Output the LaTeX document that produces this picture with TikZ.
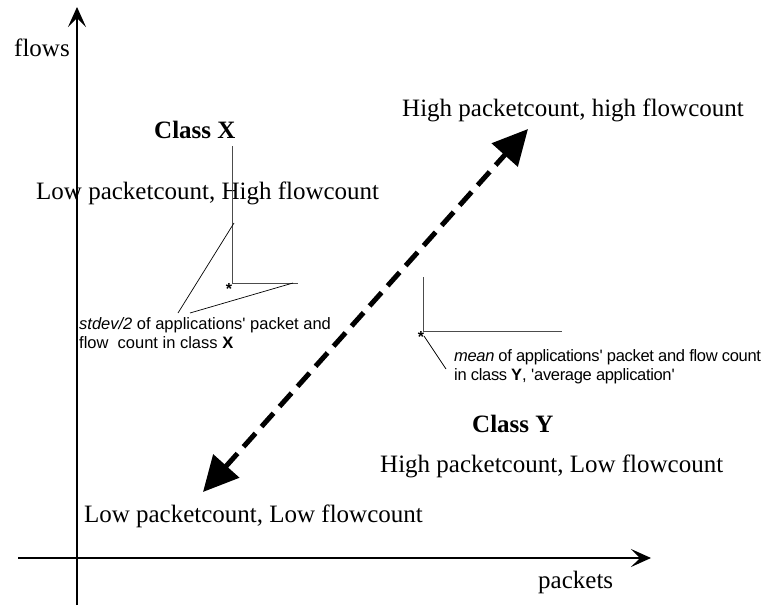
\documentclass[tikz,border=0pt]{standalone}
\usepackage{fontspec}
\setmainfont{Liberation Serif}
\setsansfont{Liberation Sans}
\newfontfamily\notefont{Liberation Sans}
\usetikzlibrary{arrows.meta}

\tikzset{
  biglabel/.style={inner sep=0pt, anchor=base west, font=\fontsize{25}{30}\selectfont},
  notelabel/.style={inner sep=0pt, anchor=base west, font=\notefont\fontsize{16.5}{19}\selectfont},
  axis/.style={line width=1.1pt, -{Stealth[length=20pt,width=18pt,inset=9pt]}},
  spread/.style={draw=black!70, line width=0.9pt},
  leader/.style={draw=black, line width=0.7pt},
  meanmark/.style={inner sep=0pt, font=\notefont\bfseries\fontsize{16}{16}\selectfont},
  trend/.style={line width=5pt, dash pattern=on 18pt off 9pt,
    {Triangle[length=35pt,width=34pt]}-{Triangle[length=35pt,width=34pt]}}
}

\begin{document}
\begin{tikzpicture}[x=1pt,y=-1pt]
\useasboundingbox (0,0) rectangle (769,610);

% axes
\coordinate (yfoot) at (77,605);
\coordinate (ytip) at (77,7);
\coordinate (xfoot) at (18,558);
\coordinate (xtip) at (651,558);
\draw[axis] (yfoot) -- (ytip);
\draw[axis] (xfoot) -- (xtip);
\node[biglabel] (flows) at (14,57) {flows};
\node[biglabel] (packets) at (538,588) {packets};

% corner labels
\node[biglabel] (classX) at (154,138) {\textbf{Class X}};
\node[biglabel] (lowhigh) at (36,199) {Low packetcount, High flowcount};
\node[biglabel] (highhigh) at (402,117) {High packetcount, high flowcount};
\node[biglabel] (classY) at (472,432) {\textbf{Class Y}};
\node[biglabel] (highlow) at (380,472) {High packetcount, Low flowcount};
\node[biglabel, anchor=base east] (lowlow) at (423,522) {Low packetcount, Low flowcount};

% trend between the two extremes
\coordinate (trendlow) at (203,492);
\coordinate (trendhigh) at (528,129);
\draw[trend] (trendlow) -- (trendhigh);

% class X: mean and half standard deviation
\node[meanmark] (meanX) at (229,289) {*};
\coordinate (xtop) at (232,146);
\coordinate (xcorner) at (232,283);
\coordinate (xright) at (298,283);
\draw[spread] (xtop) -- (xcorner) -- (xright);
\coordinate (lead1a) at (234,223);
\coordinate (lead1b) at (178,313);
\coordinate (lead2a) at (190,313);
\coordinate (lead2b) at (293,283);
\draw[leader] (lead1a) -- (lead1b);
\draw[leader] (lead2a) -- (lead2b);
\node[notelabel] (stdevA) at (79,329) {\textit{stdev/2} of applications\textquotesingle{} packet and};
\node[notelabel] (stdevB) at (79,348) {flow\ \ count in class \textbf{X}};

% class Y: mean and half standard deviation
\node[meanmark] (meanY) at (421,337) {*};
\coordinate (ytop2) at (423,277);
\coordinate (ycorner) at (423,331);
\coordinate (yright) at (562,331);
\draw[spread] (ytop2) -- (ycorner) -- (yright);
\coordinate (lead3a) at (424,336);
\coordinate (lead3b) at (446,369);
\draw[leader] (lead3a) -- (lead3b);
\node[notelabel] (meanA) at (454,361) {\addfontfeature{LetterSpace=-2}\textit{mean} of applications\textquotesingle{} packet and flow count};
\node[notelabel] (meanB) at (454,380) {\addfontfeature{LetterSpace=-2}in class \textbf{Y}, \textquotesingle average application\textquotesingle};
\end{tikzpicture}
\end{document}
